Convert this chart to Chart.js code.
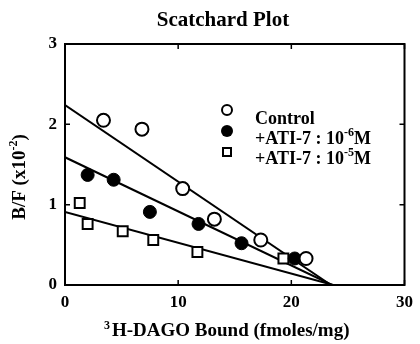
<!DOCTYPE html>
<html><head><meta charset="utf-8">
<script src="https://cdn.jsdelivr.net/npm/chart.js@4.4.0/dist/chart.umd.min.js"></script>
<style>html,body{margin:0;padding:0;background:#fff;}#wrap{width:420px;height:344px;position:relative;}</style>
</head><body><div id="wrap"><canvas id="c" width="420" height="344"></canvas></div>
<script>
const seriesNames = ["Control", "+ATI-7 : 10", "+ATI-7 : 10"];
const seriesExp = ["", "-6", "-5"];
const controlX = [3.4, 6.8, 10.4, 13.2, 17.3, 21.3];
const controlY = [2.05, 1.94, 1.20, 0.82, 0.56, 0.33];
const ati6X = [2.0, 4.3, 7.5, 11.8, 15.6, 20.3];
const ati6Y = [1.37, 1.31, 0.91, 0.76, 0.52, 0.33];
const ati5X = [1.3, 2.0, 5.1, 7.8, 11.7, 19.3];
const ati5Y = [1.02, 0.76, 0.67, 0.56, 0.41, 0.33];
const fitYIntercepts = [2.24, 1.59, 0.91];
const fitXIntercepts = [23.5, 23.6, 23.7];
const xTicks = [0, 10, 20, 30];
const yTicks = [0, 1, 2, 3];

const FONT = '"Liberation Serif", "Times New Roman", serif';
const pts = (xs, ys) => xs.map((x, i) => ({x: x, y: ys[i]}));
const fitLine = i => [{x: 0, y: fitYIntercepts[i]}, {x: fitXIntercepts[i], y: 0}];

const lineDs = i => ({type: 'line', data: fitLine(i), borderColor: '#000', borderWidth: 2, pointRadius: 0, fill: false, tension: 0, order: 5});

const decor = {
  id: 'decor',
  afterDraw(chart) {
    const ctx = chart.ctx, a = chart.chartArea;
    const xs = chart.scales.x, ys = chart.scales.y;
    ctx.save();
    ctx.strokeStyle = '#000'; ctx.lineWidth = 2;
    ctx.strokeRect(a.left, a.top, a.right - a.left, a.bottom - a.top);
    ctx.lineWidth = 1.5;
    xTicks.forEach(v => { const p = xs.getPixelForValue(v);
      ctx.beginPath(); ctx.moveTo(p, a.bottom); ctx.lineTo(p, a.bottom - 5);
      ctx.moveTo(p, a.top); ctx.lineTo(p, a.top + 5); ctx.stroke(); });
    yTicks.forEach(v => { const p = ys.getPixelForValue(v);
      ctx.beginPath(); ctx.moveTo(a.left, p); ctx.lineTo(a.left + 5, p);
      ctx.moveTo(a.right, p); ctx.lineTo(a.right - 5, p); ctx.stroke(); });
    ctx.fillStyle = '#000';
    // title
    ctx.font = 'bold 21px ' + FONT; ctx.textAlign = 'center'; ctx.textBaseline = 'alphabetic';
    ctx.fillText('Scatchard Plot', 223, 26);
    // x label
    ctx.textAlign = 'left';
    ctx.font = 'bold 12px ' + FONT;
    ctx.fillText('3', 104, 329);
    ctx.font = 'bold 19px ' + FONT;
    ctx.fillText('H-DAGO Bound (fmoles/mg)', 112, 336);
    // y label
    ctx.save();
    ctx.translate(25, 177); ctx.rotate(-Math.PI / 2);
    ctx.font = 'bold 19px ' + FONT;
    const t1 = 'B/F (x10', w1 = ctx.measureText(t1).width;
    ctx.font = 'bold 12px ' + FONT; const w2 = ctx.measureText('-2').width;
    ctx.font = 'bold 19px ' + FONT; const w3 = ctx.measureText(')').width;
    let x0 = -(w1 + w2 + w3) / 2;
    ctx.fillText(t1, x0, 0);
    ctx.font = 'bold 12px ' + FONT; ctx.fillText('-2', x0 + w1, -8);
    ctx.font = 'bold 19px ' + FONT; ctx.fillText(')', x0 + w1 + w2, 0);
    ctx.restore();
    // legend
    const rows = [110, 131, 152];
    const base = [124, 144, 164];
    const tx = 255;
    ctx.lineWidth = 2;
    ctx.beginPath(); ctx.arc(227, rows[0], 5, 0, 2 * Math.PI); ctx.fillStyle = '#fff'; ctx.fill(); ctx.stroke();
    ctx.beginPath(); ctx.arc(227, rows[1], 6, 0, 2 * Math.PI); ctx.fillStyle = '#000'; ctx.fill();
    ctx.strokeRect(223, rows[2] - 4, 8, 8);
    ctx.fillStyle = '#000';
    seriesNames.forEach((n, i) => {
      const by = base[i];
      ctx.font = 'bold 18px ' + FONT; ctx.fillText(n, tx, by);
      if (seriesExp[i]) {
        const w = ctx.measureText(n).width;
        ctx.font = 'bold 12px ' + FONT; ctx.fillText(seriesExp[i], tx + w, by - 8);
        const we = ctx.measureText(seriesExp[i]).width;
        ctx.font = 'bold 18px ' + FONT; ctx.fillText('M', tx + w + we, by);
      }
    });
    ctx.restore();
  }
};

new Chart(document.getElementById('c'), {
  type: 'scatter',
  data: {
    datasets: [
      lineDs(0), lineDs(1), lineDs(2),
      {data: pts(controlX, controlY), pointStyle: 'circle', pointRadius: 6.5, pointBackgroundColor: '#fff', pointBorderColor: '#000', pointBorderWidth: 2, order: 1},
      {data: pts(ati6X, ati6Y), pointStyle: 'circle', pointRadius: 6.5, pointBackgroundColor: '#000', pointBorderColor: '#000', pointBorderWidth: 1, order: 1},
      {data: pts(ati5X, ati5Y), pointStyle: 'rect', pointRadius: 7, pointBackgroundColor: '#fff', pointBorderColor: '#000', pointBorderWidth: 2, order: 1}
    ]
  },
  options: {
    responsive: false, animation: false,
    layout: {padding: {top: 44, right: 13, left: 0, bottom: 0}},
    plugins: {legend: {display: false}, tooltip: {enabled: false}},
    scales: {
      x: {type: 'linear', min: 0, max: 30,
        afterFit(s) { s.height = 59; },
        afterBuildTicks(s) { s.ticks = xTicks.map(v => ({value: v})); },
        grid: {display: false, drawTicks: false}, border: {display: false},
        ticks: {color: '#000', font: {family: FONT, size: 17, weight: 'bold'}, padding: 7, maxRotation: 0}},
      y: {type: 'linear', min: 0, max: 3,
        afterFit(s) { s.width = 65; },
        afterBuildTicks(s) { s.ticks = yTicks.map(v => ({value: v})); },
        grid: {display: false, drawTicks: false}, border: {display: false},
        ticks: {color: '#000', font: {family: FONT, size: 17, weight: 'bold'}, padding: 8}}
    }
  },
  plugins: [decor]
});
</script></body></html>
